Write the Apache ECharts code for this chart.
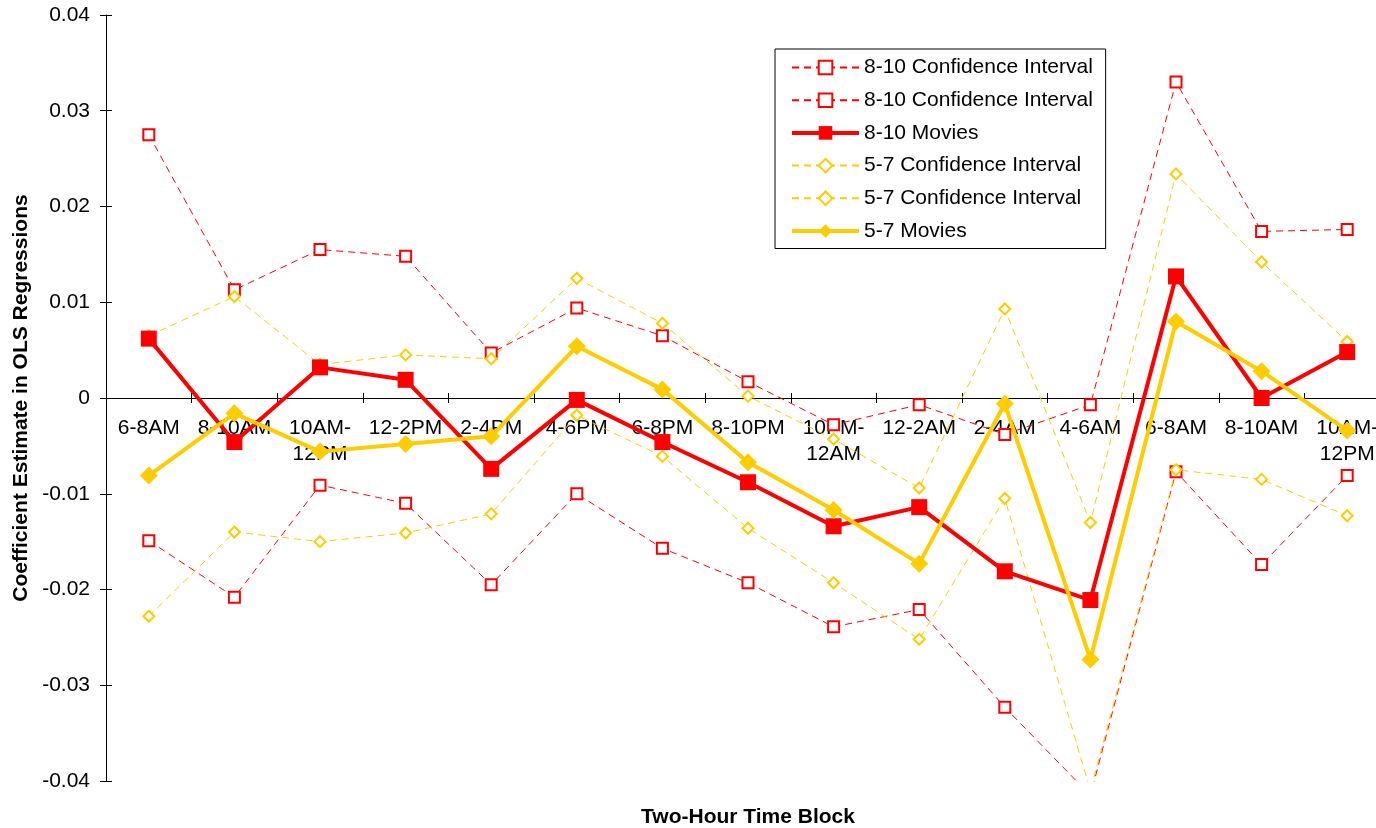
<!DOCTYPE html>
<html>
<head>
<meta charset="utf-8">
<script src="https://cdn.jsdelivr.net/npm/echarts@6/dist/echarts.min.js"></script>
<style>
html,body{margin:0;padding:0;background:#fff;}
#chart{width:1376px;height:828px;}
</style>
</head>
<body>
<div id="chart"></div>
<script>
const categories = ['6-8AM','8-10AM','10AM-\n12PM','12-2PM','2-4PM','4-6PM','6-8PM','8-10PM','10PM-\n12AM','12-2AM','2-4AM','4-6AM','6-8AM','8-10AM','10AM-\n12PM'];
const yTicks = { min: -0.04, max: 0.04, interval: 0.01 };

const ci810Upper = [0.0275, 0.0113, 0.0155, 0.0148, 0.0047, 0.0094, 0.0065, 0.0017, -0.0028, -0.0007, -0.0038, -0.0007, 0.0330, 0.0174, 0.0176];
const ci810Lower = [-0.0149, -0.0208, -0.0091, -0.0110, -0.0195, -0.0100, -0.0157, -0.0193, -0.0239, -0.0221, -0.0323, -0.0415, -0.0077, -0.0174, -0.0081];
const movies810  = [0.0062, -0.0046, 0.0032, 0.0019, -0.0074, -0.0002, -0.0046, -0.0088, -0.0134, -0.0114, -0.0181, -0.0211, 0.0127, 0.0000, 0.0048];
const ci57Upper  = [0.0065, 0.0106, 0.0035, 0.0045, 0.0041, 0.0125, 0.0078, 0.0002, -0.0043, -0.0094, 0.0093, -0.0130, 0.0234, 0.0142, 0.0059];
const ci57Lower  = [-0.0228, -0.0140, -0.0150, -0.0141, -0.0121, -0.0018, -0.0061, -0.0136, -0.0193, -0.0252, -0.0105, -0.0410, -0.0075, -0.0085, -0.0123];
const movies57   = [-0.0081, -0.0016, -0.0056, -0.0048, -0.0040, 0.0054, 0.0009, -0.0067, -0.0117, -0.0173, -0.0006, -0.0273, 0.0080, 0.0028, -0.0034];

const RED = '#FF0000';
const YEL = '#FFCC00';
const FONT = "'Liberation Sans', Arial, sans-serif";

// grid geometry (pixels)
const GRID_TOP = 15, GRID_BOTTOM = 47, CHART_H = 828;
// shift the category axis up from the bottom edge of the plot to the zero line
const zeroOffset = -((CHART_H - GRID_TOP - GRID_BOTTOM) * (0 - yTicks.min) / (yTicks.max - yTicks.min));

function ciSeries(name, data, color, symbol) {
  return {
    name: name, type: 'line', data: data, xAxisIndex: 0, yAxisIndex: 0,
    symbol: symbol, symbolSize: 11, showSymbol: true, showAllSymbol: true,
    lineStyle: { color: color, width: 1, type: [7, 5] },
    itemStyle: { color: '#fff', borderColor: color, borderWidth: 2 },
    clip: true, z: 2
  };
}
function mainSeries(name, data, color, symbol, size) {
  return {
    name: name, type: 'line', data: data, xAxisIndex: 0, yAxisIndex: 0,
    symbol: symbol, symbolSize: size, showSymbol: true, showAllSymbol: true,
    lineStyle: { color: color, width: 4 },
    itemStyle: { color: color, borderColor: color, borderWidth: 0 },
    clip: true, z: 3
  };
}

const chart = echarts.init(document.getElementById('chart'), null, { renderer: 'canvas' });
const yBase = {
  type: 'value', min: yTicks.min, max: yTicks.max, interval: yTicks.interval,
  position: 'left', splitLine: { show: false },
  axisLine: { show: true, lineStyle: { color: '#000', width: 1 } }
};
chart.setOption({
  animation: false,
  backgroundColor: '#fff',
  textStyle: { fontFamily: FONT },
  grid: { left: 106, right: -14, top: GRID_TOP, bottom: GRID_BOTTOM, containLabel: false, outerBoundsMode: 'none' },
  legend: {
    show: true, orient: 'vertical', left: 775, top: 49,
    padding: [8, 7, 7, 15],
    itemWidth: 67, itemHeight: 17, itemGap: 11.7,
    backgroundColor: '#fff', borderColor: '#000', borderWidth: 1,
    textStyle: { fontSize: 21, fontFamily: FONT, color: '#000', lineHeight: 21 },
    data: [
      { name: '8-10 Confidence Interval' },
      { name: '8-10 Confidence Interval ' },
      { name: '8-10 Movies', lineStyle: { width: 4 } },
      { name: '5-7 Confidence Interval' },
      { name: '5-7 Confidence Interval ' },
      { name: '5-7 Movies', lineStyle: { width: 4 } }
    ]
  },
  xAxis: [
    {
      type: 'category', data: categories, boundaryGap: true, position: 'bottom', offset: zeroOffset,
      axisLine: { show: true, onZero: false, lineStyle: { color: '#000', width: 1 } },
      axisTick: { show: true, inside: false, length: 5, lineStyle: { color: '#000' } },
      axisLabel: { interval: 0, fontSize: 21, color: '#000', fontFamily: FONT, margin: 17, lineHeight: 26 },
      splitLine: { show: false }
    },
    {
      type: 'category', data: categories, boundaryGap: true, position: 'bottom', offset: zeroOffset,
      axisLine: { show: false, onZero: false },
      axisTick: { show: true, inside: true, length: 5, lineStyle: { color: '#000' } },
      axisLabel: { show: false }, splitLine: { show: false }
    }
  ],
  yAxis: [
    Object.assign({}, yBase, {
      name: 'Coefficient Estimate in OLS Regressions', nameLocation: 'middle', nameRotate: 90, nameGap: 74,
      nameTextStyle: { fontSize: 21, fontWeight: 'bold', color: '#000', fontFamily: FONT },
      axisTick: { show: true, inside: false, length: 6, lineStyle: { color: '#000' } },
      axisLabel: { fontSize: 21, color: '#000', fontFamily: FONT, margin: 16 }
    }),
    Object.assign({}, yBase, {
      axisLine: { show: false },
      axisTick: { show: true, inside: true, length: 6, lineStyle: { color: '#000' } },
      axisLabel: { show: false }
    })
  ],
  graphic: [{
    type: 'text', x: 748, y: 817,
    style: { text: 'Two-Hour Time Block', font: "bold 21px 'Liberation Sans', Arial, sans-serif", fill: '#000', align: 'center', verticalAlign: 'middle' }
  }],
  series: [
    ciSeries('8-10 Confidence Interval', ci810Upper, RED, 'rect'),
    ciSeries('8-10 Confidence Interval ', ci810Lower, RED, 'rect'),
    mainSeries('8-10 Movies', movies810, RED, 'rect', 16),
    ciSeries('5-7 Confidence Interval', ci57Upper, YEL, 'diamond'),
    ciSeries('5-7 Confidence Interval ', ci57Lower, YEL, 'diamond'),
    mainSeries('5-7 Movies', movies57, YEL, 'diamond', 18)
  ]
});
</script>
</body>
</html>
